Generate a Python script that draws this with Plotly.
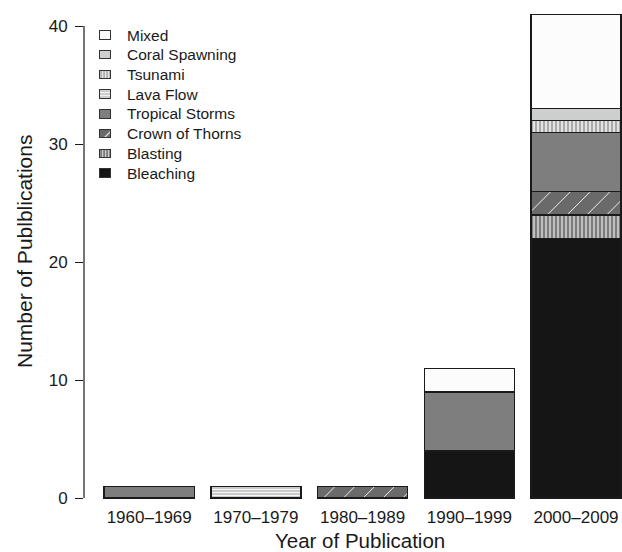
import plotly.graph_objects as go

# ---- data ----
decades = ["1960–1969", "1970–1979", "1980–1989", "1990–1999", "2000–2009"]
categories = ["Bleaching", "Blasting", "Crown of Thorns", "Tropical Storms",
              "Lava Flow", "Tsunami", "Coral Spawning", "Mixed"]
bleaching = [0, 0, 0, 4, 22]
blasting = [0, 0, 0, 0, 2]
crown_of_thorns = [0, 0, 1, 0, 2]
tropical_storms = [1, 0, 0, 5, 5]
lava_flow = [0, 1, 0, 0, 0]
tsunami = [0, 0, 0, 0, 1]
coral_spawning = [0, 0, 0, 0, 1]
mixed = [0, 0, 0, 2, 8]
y_ticks = [0, 10, 20, 30, 40]

values = {
    "Bleaching": bleaching,
    "Blasting": blasting,
    "Crown of Thorns": crown_of_thorns,
    "Tropical Storms": tropical_storms,
    "Lava Flow": lava_flow,
    "Tsunami": tsunami,
    "Coral Spawning": coral_spawning,
    "Mixed": mixed,
}

# ---- styles ----
styles = {
    "Bleaching":       dict(shape="",  bg="#151515", fg="#151515", size=8,  sol=0.3,  lsize=8,  lsol=0.3),
    "Blasting":        dict(shape="|", bg="#7c7c7c", fg="#dcdcdc", size=4,  sol=0.35, lsize=3,  lsol=0.35),
    "Crown of Thorns": dict(shape="/", bg="#6a6a6a", fg="#f2f2f2", size=14, sol=0.07, lsize=12, lsol=0.1),
    "Tropical Storms": dict(shape="",  bg="#7e7e7e", fg="#7e7e7e", size=8,  sol=0.3,  lsize=8,  lsol=0.3),
    "Lava Flow":       dict(shape="-", bg="#bcbcbc", fg="#f6f6f6", size=3,  sol=0.5,  lsize=3,  lsol=0.5),
    "Tsunami":         dict(shape="|", bg="#a9a9a9", fg="#f2f2f2", size=4,  sol=0.4,  lsize=3,  lsol=0.4),
    "Coral Spawning":  dict(shape="",  bg="#cdcfce", fg="#cdcfce", size=8,  sol=0.3,  lsize=8,  lsol=0.3),
    "Mixed":           dict(shape="",  bg="#fcfcfc", fg="#fcfcfc", size=8,  sol=0.3,  lsize=8,  lsol=0.3),
}

FONT = "Liberation Sans, Arial, Helvetica, sans-serif"
INK = "#1a1a1a"
W, H = 622, 552
ML, MR, MT, MB = 84, 0, 5, 47
PW, PH = W - ML - MR, H - MT - MB


def px_x(p):
    return (p - ML) / PW


def px_y(p):
    return (H - MB - p) / PH


fig = go.Figure()

for cat in categories:
    s = styles[cat]
    fig.add_trace(go.Bar(
        x=decades, y=values[cat], name=cat, showlegend=False,
        marker=dict(
            color=s["bg"],
            line=dict(color=INK, width=1.4),
            pattern=dict(shape=s["shape"], bgcolor=s["bg"], fgcolor=s["fg"],
                         size=s["size"], solidity=s["sol"], fillmode="replace"),
        ),
        hoverinfo="skip",
    ))

# ---- hand-made legend (swatches on a small helper axis) ----
for i, cat in enumerate(categories):
    s = styles[cat]
    fig.add_trace(go.Bar(
        x=[1], y=[i], base=0, orientation="h", width=0.43,
        xaxis="x2", yaxis="y2", showlegend=False, hoverinfo="skip",
        marker=dict(
            color=s["bg"],
            line=dict(color="#333333", width=1.0),
            pattern=dict(shape=s["shape"], bgcolor=s["bg"], fgcolor=s["fg"],
                         size=s["lsize"], solidity=s["lsol"], fillmode="replace"),
        ),
    ))

annotations = []
for i, c in enumerate(categories):
    annotations.append(dict(
        text=c, x=px_x(124.5), xref="paper", xanchor="left",
        y=i, yref="y2", yanchor="middle", showarrow=False,
        font=dict(family=FONT, size=15.5, color=INK),
    ))

# axis titles
annotations.append(dict(
    text="Year of Publication", x=px_x(360), xref="paper", xanchor="center",
    y=px_y(540), yref="paper", yanchor="middle", showarrow=False,
    font=dict(family=FONT, size=20.5, color=INK),
))
annotations.append(dict(
    text="Number of Publblications", textangle=-90,
    x=px_x(24), xref="paper", xanchor="center",
    y=px_y(252), yref="paper", yanchor="middle", showarrow=False,
    font=dict(family=FONT, size=21, color=INK),
))

y0_px, y40_px = 498.0, 26.0
upp = (y0_px - y40_px) / 40.0
y_lo = -((H - MB) - y0_px) / upp
y_hi = 40 + (y40_px - MT) / upp

c0_px, step_px = 149.2, 106.7
x_lo = (ML - c0_px) / step_px
x_hi = (W - MR - c0_px) / step_px

sw_c, sw_half = 105.0, 6.84
row0_px, row7_px = 173.0, 35.0
row_step = (row0_px - row7_px) / 7

fig.update_layout(
    width=W, height=H,
    margin=dict(l=ML, r=MR, t=MT, b=MB, pad=0),
    paper_bgcolor="white", plot_bgcolor="rgba(0,0,0,0)",
    barmode="stack", bargap=0.155,
    font=dict(family=FONT, color=INK),
    xaxis=dict(
        type="category", range=[x_lo, x_hi], showline=False, ticks="",
        showgrid=False, zeroline=False, tickfont=dict(size=17, color=INK),
    ),
    yaxis=dict(
        range=[y_lo, y_hi], tickvals=y_ticks, ticks="outside", ticklen=8,
        tickwidth=1.2, tickcolor=INK, showgrid=False, zeroline=False,
        showline=False, tickfont=dict(size=17, color=INK), ticklabelstandoff=4,
    ),
    xaxis2=dict(
        domain=[px_x(sw_c - sw_half), px_x(sw_c + sw_half)], range=[-0.1, 1.1],
        anchor="y2", visible=False, fixedrange=True,
    ),
    yaxis2=dict(
        domain=[px_y(row0_px + row_step / 2), px_y(row7_px - row_step / 2)],
        range=[-0.5, 7.5], anchor="x2", visible=False, fixedrange=True,
    ),
    annotations=annotations,
    shapes=[dict(
        type="line", xref="paper", yref="y", x0=0, x1=0,
        y0=y_ticks[0], y1=y_ticks[-1], line=dict(color=INK, width=1.2),
    )],
)

fig.write_html(
    "out.html",
    config={"displayModeBar": False},
    post_script="document.body.style.margin='0';document.body.style.overflow='hidden';",
)
